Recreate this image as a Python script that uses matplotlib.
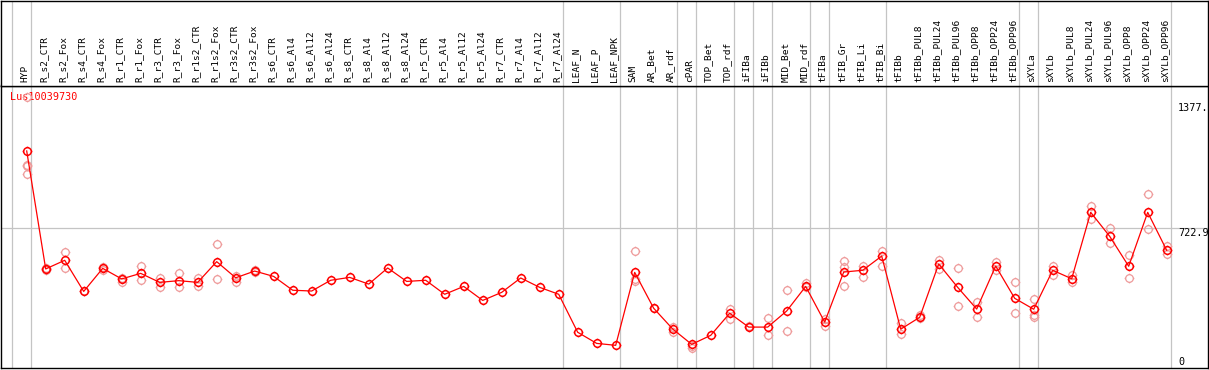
import numpy as np
import matplotlib
matplotlib.use('Agg')
from matplotlib import pyplot as plt
from matplotlib.path import Path
from matplotlib.transforms import blended_transform_factory

# sample names (header)
samples = ['HYP', 'R_s2_CTR', 'R_s2_Fox', 'R_s4_CTR', 'R_s4_Fox', 'R_r1_CTR', 'R_r1_Fox',
           'R_r3_CTR', 'R_r3_Fox', 'R_r1s2_CTR', 'R_r1s2_Fox', 'R_r3s2_CTR', 'R_r3s2_Fox',
           'R_s6_CTR', 'R_s6_Al4', 'R_s6_Al12', 'R_s6_Al24', 'R_s8_CTR', 'R_s8_Al4',
           'R_s8_Al12', 'R_s8_Al24', 'R_r5_CTR', 'R_r5_Al4', 'R_r5_Al12', 'R_r5_Al24',
           'R_r7_CTR', 'R_r7_Al4', 'R_r7_Al12', 'R_r7_Al24', 'LEAF_N', 'LEAF_P', 'LEAF_NPK',
           'SAM', 'AR_Bet', 'AR_rdf', 'cPAR', 'TOP_Bet', 'TOP_rdf', 'iFIBa', 'iFIBb',
           'MID_Bet', 'MID_rdf', 'tFIBa', 'tFIB_Gr', 'tFIB_Li', 'tFIB_Bi', 'tFIBb',
           'tFIBb_PUL8', 'tFIBb_PUL24', 'tFIBb_PUL96', 'tFIBb_OPP8', 'tFIBb_OPP24',
           'tFIBb_OPP96', 'sXYLa', 'sXYLb', 'sXYLb_PUL8', 'sXYLb_PUL24', 'sXYLb_PUL96',
           'sXYLb_OPP8', 'sXYLb_OPP24', 'sXYLb_OPP96']

# mean expression per sample
means = [1126, 511, 556, 394, 514, 459, 488, 441, 450, 441, 549, 465, 500,
         472, 400, 396, 452, 467, 432, 516, 446, 452, 379, 420, 347, 389, 464, 415, 379,
         181, 123, 113, 493, 306, 198, 118, 165, 280, 208, 208, 292, 420, 234,
         495, 504, 578, 197, 259, 537, 415, 302, 526, 358, 301, 504, 460, 806,
         681, 525, 806, 608]

# replicate values (pink circles)
reps = [[1405, 1055, 1048, 1006], [515, 503], [598, 514], [396], [520, 506],
        [465, 444], [526, 451], [465, 418], [491, 418], [462, 422], [641, 457],
        [476, 444], [505, 496], [], [], [], [], [], [], [], [], [], [], [], [],
        [], [], [], [], [], [], [], [603, 460, 448], [308], [210, 181], [101, 110],
        [], [302, 252], [212], [254, 165], [400, 186], [436, 415], [214, 248],
        [551, 519, 420], [528, 467], [606, 525], [228, 174], [273, 255], [559, 511],
        [514, 316], [339, 262], [546, 504], [441, 280], [353, 273, 262], [528, 479],
        [479, 444], [839, 770], [724, 645], [582, 462], [900, 718], [630, 589]]

# last sample of each group (vertical separators)
group_ends = [-1, 0, 28, 31, 34, 35, 37, 38, 39, 41, 42, 45, 52, 53, 60]

title = 'Lus10039730'
y_mid = 722.9
y_max = 1377

W, H = 1209, 370
fig = plt.figure(figsize=(W / 100, H / 100), dpi=100)

x_left = (1 - 26.7) / 19
x_right = (1208 - 26.7) / 19
header_px = 85.5

ax = fig.add_axes([1 / W, 2 / H, 1207 / W, (368 - header_px) / H])
hd = fig.add_axes([1 / W, (H - header_px) / H, 1207 / W, (header_px - 0.5) / H])

for a in (ax, hd):
    a.set_xlim(x_left, x_right)
    a.set_xticks([])
    a.set_yticks([])
    for s in a.spines.values():
        s.set_color('black')
        s.set_linewidth(1.0)
    for g in group_ends:
        a.axvline(g + 0.21, color='#c4c4c4', lw=0.9, zorder=0)

ax.set_ylim(-5.2, 1467)
ax.axhline(y_mid, color='#c4c4c4', lw=0.9, zorder=0)

# marker: circle with small stubs
stub_v = [(0, 1), (0, 1.28), (0, -1), (0, -1.28), (1, 0), (1.28, 0), (-1, 0), (-1.28, 0)]
stub_c = [Path.MOVETO, Path.LINETO] * 4
mk = Path.make_compound_path(Path.unit_circle(), Path(stub_v, stub_c))
msize = 7.0

x = np.arange(len(samples))
for i, r in enumerate(reps):
    if r:
        ax.plot([i] * len(r), r, linestyle='none', marker=mk, markersize=msize,
                markerfacecolor='none', markeredgecolor='#ee9a9a', markeredgewidth=0.9, zorder=2)

ax.plot(x, means, color='red', lw=0.9, zorder=3)
ax.plot(x, means, linestyle='none', marker=mk, markersize=msize, markerfacecolor='none',
        markeredgecolor='red', markeredgewidth=1.1, zorder=4)

ax.text((10 - 26.7) / 19, 1408, title, color='red', fontsize=7.3,
        family='DejaVu Sans Mono', ha='left', va='center', zorder=1)

lab_x = (1178 - 26.7) / 19
ax.text(lab_x, y_max, '1377.', fontsize=7.3, family='DejaVu Sans Mono', ha='left', va='top')
ax.text(lab_x, y_mid, '722.9', fontsize=7.3, family='DejaVu Sans Mono', ha='left', va='top')
ax.text(lab_x, 0, '0', fontsize=7.3, family='DejaVu Sans Mono', ha='left', va='bottom')

tr = blended_transform_factory(hd.transData, hd.transAxes)
for i, s in enumerate(samples):
    hd.text(i - 0.1, 0.04, s, transform=tr, rotation=90, fontsize=6.8,
            family='DejaVu Sans Mono', ha='center', va='bottom')

plt.savefig('out.png', dpi=100)
